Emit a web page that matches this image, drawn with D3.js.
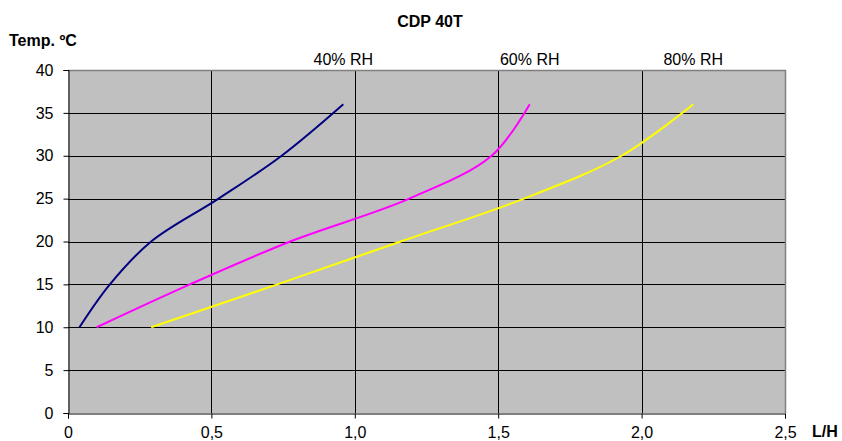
<!DOCTYPE html>
<html>
<head>
<meta charset="utf-8">
<script src="https://cdn.jsdelivr.net/npm/d3@7"></script>
<style>
  body { margin: 0; background: #fff; }
  text { font-family: "Liberation Sans", Arial, sans-serif; }
</style>
</head>
<body>
<div id="chart"></div>
<script>
// values
const temps = [10, 15, 20, 25, 30, 36];
const flow40 = [0.04, 0.146, 0.29, 0.525, 0.745, 0.96];
const flow60 = [0.10, 0.425, 0.775, 1.19, 1.477, 1.61];
const flow80 = [0.29, 0.73, 1.16, 1.59, 1.93, 2.18];
const seriesNames = ["40% RH", "60% RH", "80% RH"];
const seriesColors = ["#000080", "#FF00FF", "#FFFF00"];
const xTicks = [0, 0.5, 1.0, 1.5, 2.0, 2.5];
const yTicks = [0, 5, 10, 15, 20, 25, 30, 35, 40];

const width = 842, height = 441;
const margin = { top: 70, right: 57, bottom: 28, left: 68 };

const svg = d3.select("#chart").append("svg")
    .attr("width", width)
    .attr("height", height);

const x = d3.scaleLinear().domain([0, 2.5]).range([margin.left, width - margin.right]);
const y = d3.scaleLinear().domain([0, 40]).range([height - margin.bottom, margin.top]);

// plot background
svg.append("rect")
    .attr("x", x(0)).attr("y", y(40))
    .attr("width", x(2.5) - x(0)).attr("height", y(0) - y(40))
    .attr("fill", "#C0C0C0");

// grid
svg.append("g").selectAll("line")
    .data(yTicks.filter(d => d > 0 && d < 40))
    .enter().append("line")
    .attr("x1", x(0)).attr("x2", x(2.5))
    .attr("y1", d => Math.round(y(d)) + 0.5).attr("y2", d => Math.round(y(d)) + 0.5)
    .attr("stroke", "#000");

svg.append("g").selectAll("line")
    .data(xTicks.filter(d => d > 0 && d < 2.5))
    .enter().append("line")
    .attr("x1", d => Math.round(x(d)) + 0.5).attr("x2", d => Math.round(x(d)) + 0.5)
    .attr("y1", y(40)).attr("y2", y(0))
    .attr("stroke", "#000");

// border top / right
svg.append("path")
    .attr("d", `M${x(0)},${Math.round(y(40)) + 0.5}H${Math.round(x(2.5)) + 0.5}V${y(0)}`)
    .attr("fill", "none")
    .attr("stroke", "#808080")
    .attr("stroke-width", 1.5);

// axes
const xAxis = svg.append("g")
    .attr("transform", `translate(0,${Math.round(y(0)) + 0.5})`)
    .call(d3.axisBottom(x).tickValues(xTicks).tickSize(5).tickPadding(8)
        .tickFormat(d => d === 0 ? "0" : d3.format(".1f")(d).replace(".", ",")));
const yAxis = svg.append("g")
    .attr("transform", `translate(${Math.round(x(0)) + 0.5},0)`)
    .call(d3.axisLeft(y).tickValues(yTicks).tickSize(5).tickPadding(10));

[xAxis, yAxis].forEach(a => {
    a.selectAll("text").attr("font-size", 16).attr("font-family", "Liberation Sans, Arial").attr("fill", "#000");
    a.selectAll("line, path").attr("stroke", "#000");
});

// curves
const series = [flow40, flow60, flow80];
const line = d3.line()
    .x(d => x(d[0]))
    .y(d => y(d[1]))
    .curve(d3.curveCatmullRom.alpha(0.5));

series.forEach((s, i) => {
    svg.append("path")
        .datum(s.map((v, j) => [v, temps[j]]))
        .attr("fill", "none")
        .attr("stroke", seriesColors[i])
        .attr("stroke-width", 2)
        .attr("d", line);

    // caption centred over the top end of each curve
    svg.append("text")
        .attr("x", x(s[s.length - 1]))
        .attr("y", 65)
        .attr("text-anchor", "middle")
        .attr("font-size", 16)
        .text(seriesNames[i]);
});

// titles
svg.append("text")
    .attr("x", 430).attr("y", 27)
    .attr("text-anchor", "middle")
    .attr("font-size", 16).attr("font-weight", "bold")
    .text("CDP 40T");

svg.append("text")
    .attr("x", 9).attr("y", 46)
    .attr("font-size", 16).attr("font-weight", "bold")
    .text("Temp. ºC");

svg.append("text")
    .attr("x", 812).attr("y", 437)
    .attr("font-size", 16).attr("font-weight", "bold")
    .text("L/H");
</script>
</body>
</html>
